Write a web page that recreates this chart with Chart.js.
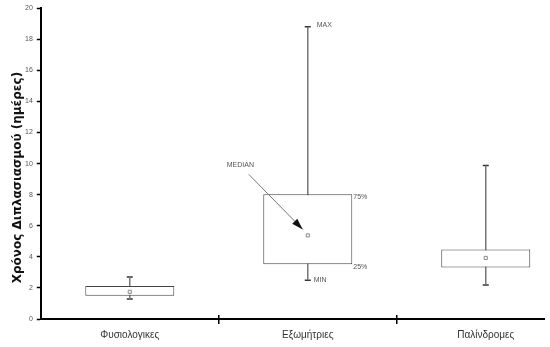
<!DOCTYPE html>
<html>
<head>
<meta charset="utf-8">
<script src="https://cdn.jsdelivr.net/npm/chart.js@4"></script>
<style>
  html, body { margin: 0; padding: 0; background: #fff; }
  #wrap { width: 550px; height: 347px; }
</style>
</head>
<body>
<div id="wrap"><canvas id="chart"></canvas></div>
<script>
// Box plot of doubling time per group.
const categories = ['Φυσιολογικες', 'Εξωμήτριες', 'Παλίνδρομες'];
const minVals    = [1.28, 2.5, 2.18];
const q1Vals     = [1.49, 3.53, 3.31];
const medianVals = [1.75, 5.38, 3.93];
const q3Vals     = [2.13, 8.03, 4.47];
const maxVals    = [2.71, 18.8, 9.87];
const yTicks     = [0, 2, 4, 6, 8, 10, 12, 14, 16, 18, 20];
const yTitle     = 'Χρόνος Διπλασιασμού (ημέρες)';

const positions = categories.map((c, i) => i);

// whiskers: one line per group from min to max (box covers the middle)
const whiskerSets = positions.map(i => ({
    type: 'line',
    data: [{ x: i, y: minVals[i] }, { x: i, y: maxVals[i] }],
    borderColor: '#777',
    borderWidth: 1.5,
    pointRadius: 0,
    order: 3,
}));

const capSet = {
    type: 'scatter',
    data: positions.flatMap(i => [{ x: i, y: minVals[i] }, { x: i, y: maxVals[i] }]),
    pointStyle: 'line',
    pointRadius: 3,
    borderColor: '#333',
    borderWidth: 1.5,
    order: 3,
};

const boxSet = {
    type: 'bar',
    data: positions.map(i => ({ x: i, y: [q1Vals[i], q3Vals[i]] })),
    backgroundColor: '#fff',
    borderColor: '#444',
    borderWidth: 1,
    borderSkipped: false,
    barPercentage: 0.5,
    categoryPercentage: 1,
    order: 2,
};

const medianSet = {
    type: 'scatter',
    data: positions.map(i => ({ x: i, y: medianVals[i] })),
    pointStyle: 'rect',
    pointRadius: 2.2,
    backgroundColor: '#fff',
    borderColor: '#888',
    borderWidth: 1,
    order: 1,
};

// labels and arrow on the middle box, the axis title and the "+" dividers
const notes = {
    id: 'notes',
    afterDraw(chart) {
        const { ctx, chartArea, scales: { x, y } } = chart;
        const bar = chart.getDatasetMeta(whiskerSets.length + 1).data[1];
        const cx = x.getPixelForValue(1);
        const right = bar.x + bar.width / 2;
        ctx.save();
        ctx.fillStyle = '#555';
        ctx.font = '7px "Liberation Sans Narrow", "Liberation Sans", sans-serif';
        ctx.textBaseline = 'middle';
        ctx.textAlign = 'left';
        ctx.fillText('MAX', cx + 9, y.getPixelForValue(maxVals[1]) - 2);
        ctx.fillText('75%', right + 1, y.getPixelForValue(q3Vals[1]) + 3);
        ctx.fillText('25%', right + 1, y.getPixelForValue(q1Vals[1]) + 3);
        ctx.fillText('MIN', cx + 6, y.getPixelForValue(minVals[1]));
        const my = y.getPixelForValue(medianVals[1]);
        ctx.fillText('MEDIAN', cx - 81, my - 70);

        // arrow
        const sx = cx - 59, sy = my - 61, tx = cx - 5, ty = my - 6;
        ctx.strokeStyle = '#777';
        ctx.lineWidth = 1;
        ctx.beginPath();
        ctx.moveTo(sx, sy);
        ctx.lineTo(tx, ty);
        ctx.stroke();
        const ang = Math.atan2(ty - sy, tx - sx);
        ctx.fillStyle = '#111';
        ctx.beginPath();
        ctx.moveTo(tx, ty);
        ctx.lineTo(tx - 12 * Math.cos(ang - 0.3), ty - 12 * Math.sin(ang - 0.3));
        ctx.lineTo(tx - 12 * Math.cos(ang + 0.3), ty - 12 * Math.sin(ang + 0.3));
        ctx.closePath();
        ctx.fill();

        // group dividers crossing the x axis
        ctx.strokeStyle = '#000';
        ctx.lineWidth = 1.5;
        [0.5, 1.5].forEach(v => {
            const px = x.getPixelForValue(v);
            ctx.beginPath();
            ctx.moveTo(px, y.bottom - 4);
            ctx.lineTo(px, y.bottom + 5);
            ctx.stroke();
        });

        // y axis title
        ctx.translate(chartArea.left - 23, (chartArea.top + chartArea.bottom) / 2 + 14);
        ctx.rotate(-Math.PI / 2);
        ctx.fillStyle = '#111';
        ctx.textAlign = 'center';
        ctx.font = 'bold 12px "DejaVu Sans", sans-serif';
        ctx.fillText(yTitle, 0, 0);
        ctx.restore();
    }
};

new Chart(document.getElementById('chart'), {
    type: 'bar',
    data: { datasets: [...whiskerSets, capSet, boxSet, medianSet] },
    options: {
        responsive: true,
        maintainAspectRatio: false,
        animation: false,
        layout: { padding: { top: 3, right: 0, left: 21, bottom: 2 } },
        plugins: { legend: { display: false }, tooltip: { enabled: false } },
        scales: {
            x: {
                type: 'linear',
                offset: false,
                min: -0.5,
                max: 2.33,
                afterBuildTicks: axis => { axis.ticks = positions.map(v => ({ value: v })); },
                ticks: {
                    autoSkip: false,
                    maxRotation: 0,
                    color: '#333',
                    padding: 4,
                    font: { family: '"Liberation Sans", sans-serif', size: 10 },
                    callback: v => categories[v],
                },
                grid: { drawOnChartArea: false, offset: false, tickColor: 'transparent', tickLength: 6 },
                border: { color: '#000', width: 2 },
            },
            y: {
                min: 0,
                max: 20,
                afterBuildTicks: axis => { axis.ticks = yTicks.map(v => ({ value: v })); },
                ticks: {
                    color: '#555',
                    padding: 4,
                    font: { family: '"Liberation Sans Narrow", "Liberation Sans", sans-serif', size: 7 },
                },
                grid: { drawOnChartArea: false, tickColor: '#000', tickLength: 4, tickWidth: 1.5 },
                border: { color: '#000', width: 2 },
            },
        },
    },
    plugins: [notes],
});
</script>
</body>
</html>
